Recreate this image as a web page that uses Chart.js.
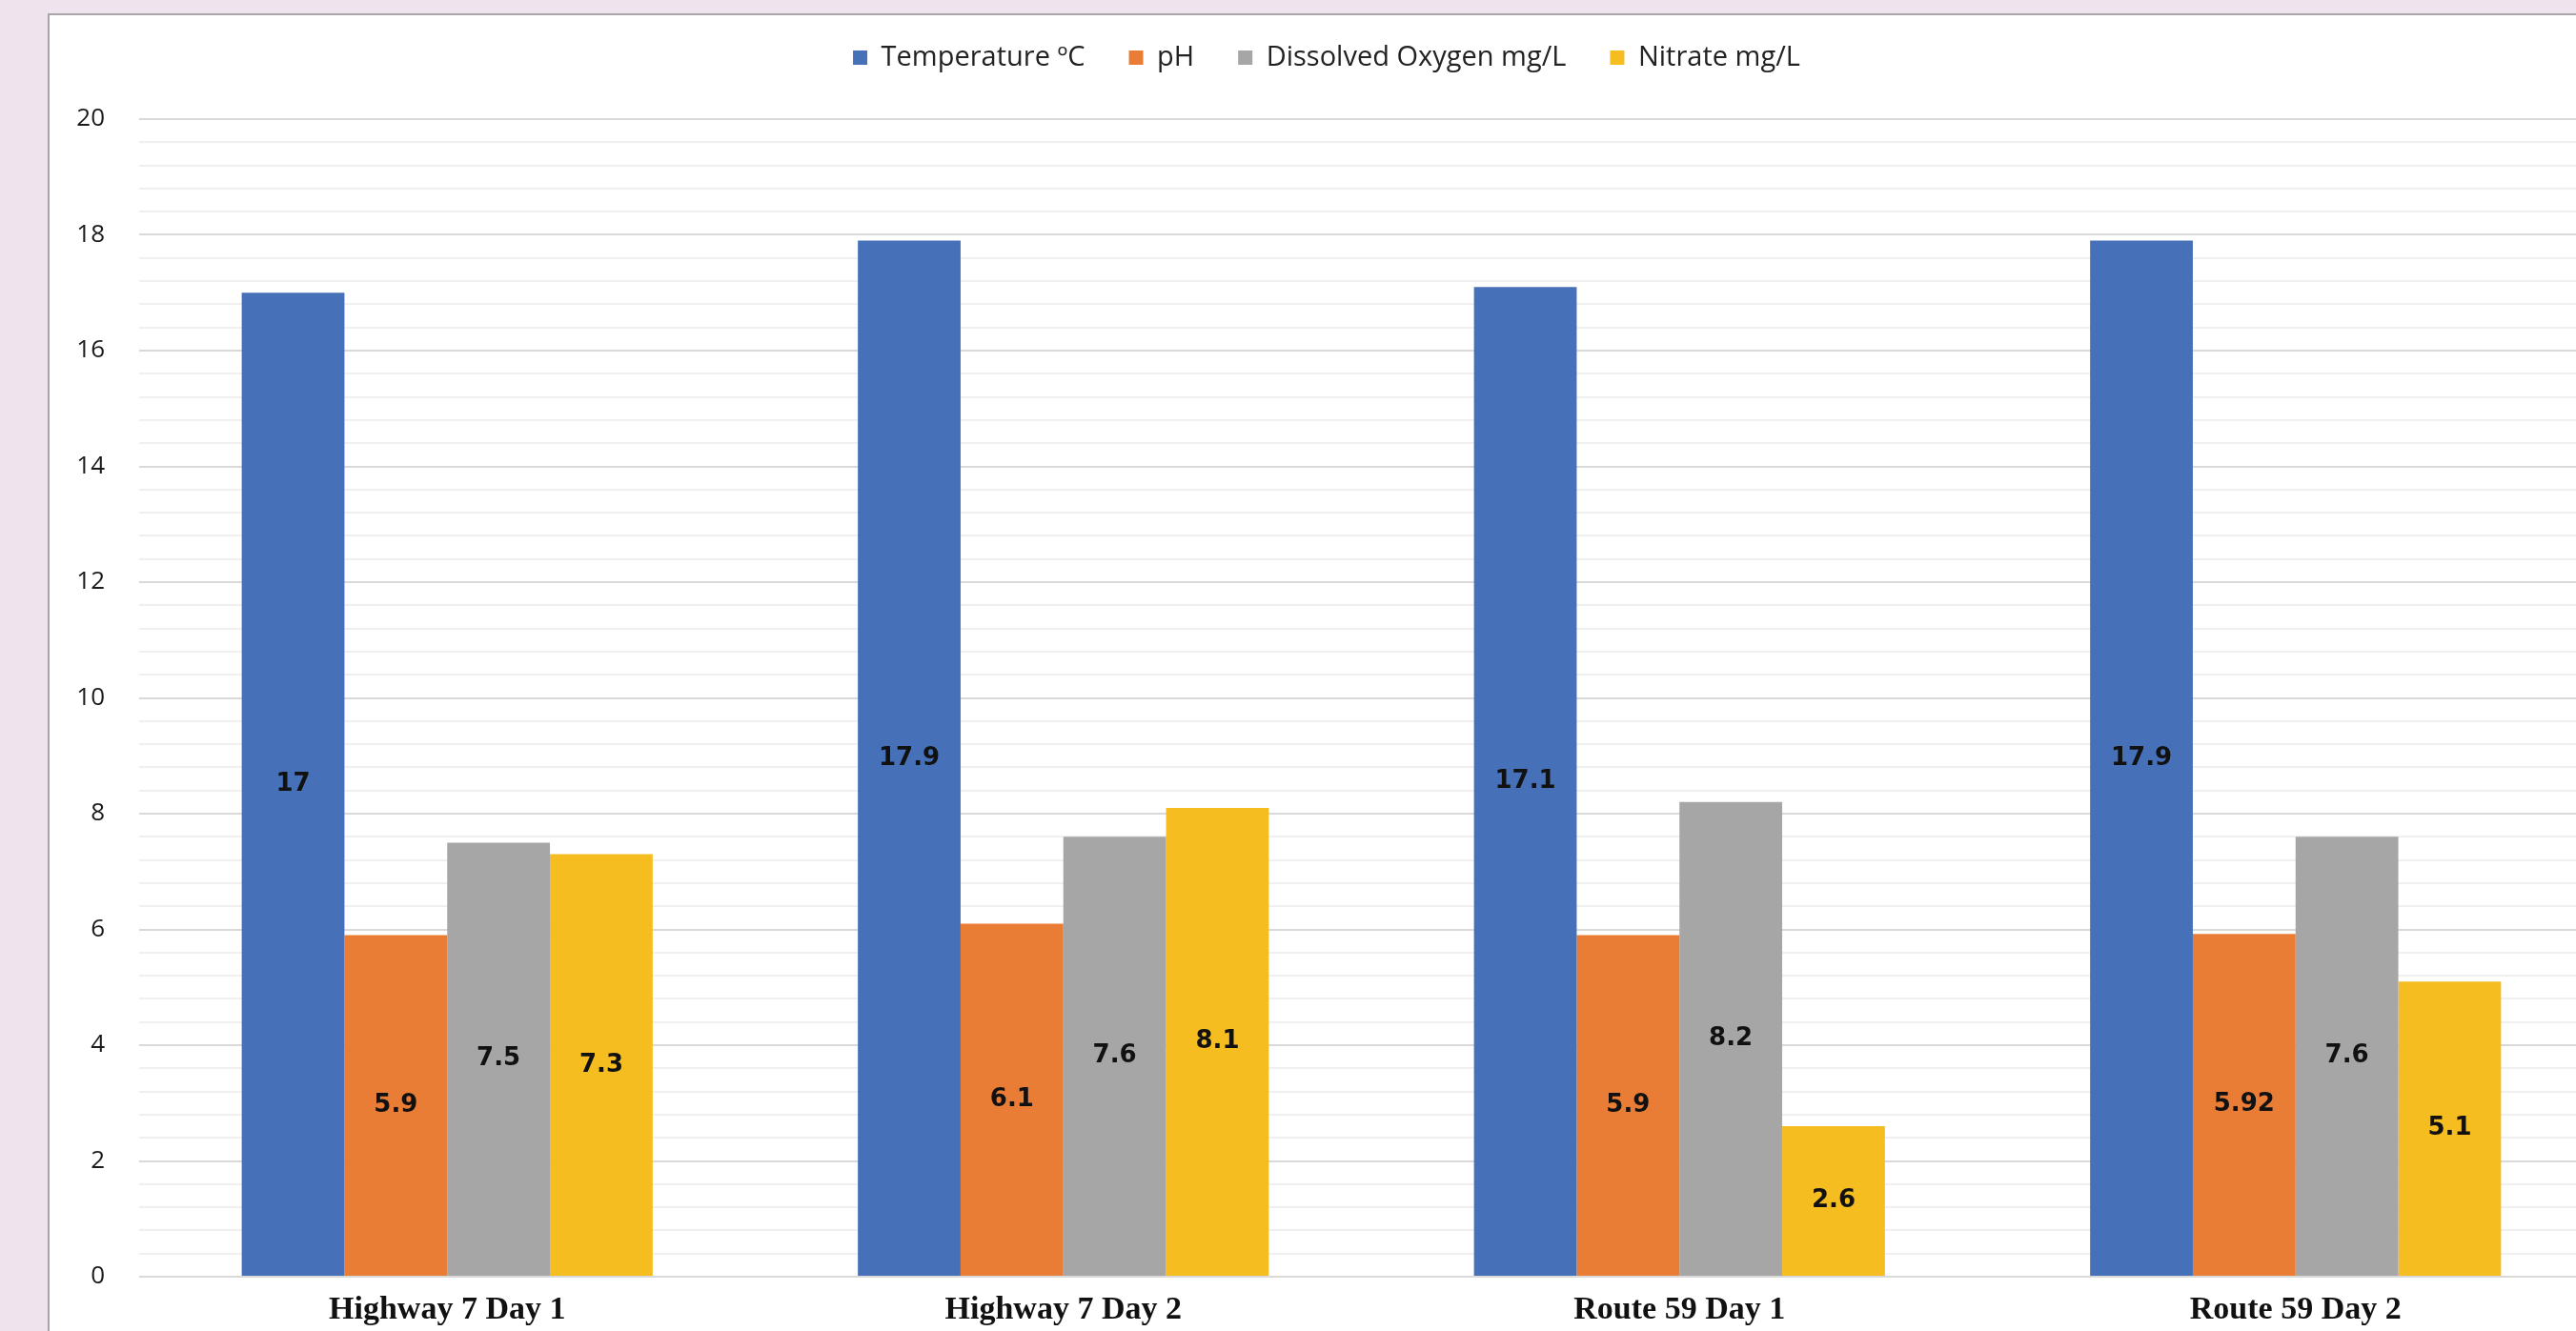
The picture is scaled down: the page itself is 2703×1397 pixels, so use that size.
<!DOCTYPE html>
<html>
<head>
<meta charset="utf-8">
<title>Water quality measurements</title>
<script src="https://cdn.jsdelivr.net/npm/chart.js@4.4.1/dist/chart.umd.min.js"></script>
<style>
  html, body { margin: 0; padding: 0; overflow: hidden; background: #efe4ee; width: 2703px; height: 1397px; }
  #panel {
    position: absolute; left: 50px; top: 14px;
    width: 2720px; height: 1400px;
    background: #ffffff;
    border-left: 2px solid #a8a4a8;
    border-top: 2px solid #a8a4a8;
  }
  #chart { position: absolute; left: 0; top: 0; }
</style>
</head>
<body>
<div id="panel"><canvas id="chart" width="2680" height="1381"></canvas></div>
<script>
// Sampling sites / days
const sites = ['Highway 7 Day 1', 'Highway 7 Day 2', 'Route 59 Day 1', 'Route 59 Day 2'];

// Measured values per site
const temperature = [17, 17.9, 17.1, 17.9];
const ph = [5.9, 6.1, 5.9, 5.92];
const dissolvedOxygen = [7.5, 7.6, 8.2, 7.6];
const nitrate = [7.3, 8.1, 2.6, 5.1];

// Series names shown in the legend
const seriesNames = ['Temperature ºC', 'pH', 'Dissolved Oxygen mg/L', 'Nitrate mg/L'];
const seriesColors = ['#4671b8', '#e97d36', '#a6a6a6', '#f5bd1f'];

// Value axis: labelled every 2, light minor lines every 0.4
const yMin = 0;
const yMax = 20;
const yStep = 0.4;
const yLabelEvery = 2;

const isMajor = v => Math.abs(v / yLabelEvery - Math.round(v / yLabelEvery)) < 1e-6;

// Writes each bar's value at the middle of the bar
const barValueLabels = {
  id: 'barValueLabels',
  afterDatasetsDraw(chart) {
    const ctx = chart.ctx;
    ctx.save();
    ctx.font = 'bold 26px "DejaVu Sans"';
    ctx.fillStyle = '#111111';
    ctx.textAlign = 'center';
    ctx.textBaseline = 'middle';
    chart.data.datasets.forEach((ds, di) => {
      const meta = chart.getDatasetMeta(di);
      meta.data.forEach((bar, i) => {
        const p = bar.getProps(['x', 'y', 'base'], true);
        ctx.fillText(String(ds.data[i]), p.x, (p.y + p.base) / 2);
      });
    });
    ctx.restore();
  }
};

// Leaves a gap between the legend row and the plot
const legendGap = {
  id: 'legendGap',
  beforeLayout(chart) {
    const legend = chart.legend;
    if (legend && !legend._gapPatched) {
      legend._gapPatched = true;
      const baseFit = legend.fit;
      legend.fit = function () {
        baseFit.call(this);
        this.height += 40;
      };
    }
  }
};

const datasets = [temperature, ph, dissolvedOxygen, nitrate].map((values, i) => ({
  label: seriesNames[i],
  data: values,
  backgroundColor: seriesColors[i],
  borderWidth: 0,
  categoryPercentage: 0.667,
  barPercentage: 1.0
}));

new Chart(document.getElementById('chart'), {
  type: 'bar',
  data: { labels: sites, datasets },
  plugins: [barValueLabels, legendGap],
  options: {
    responsive: false,
    animation: false,
    events: [],
    layout: { padding: { top: -16, left: 0, right: 0, bottom: 0 } },
    plugins: {
      tooltip: { enabled: false },
      title: { display: false },
      legend: {
        display: true,
        position: 'top',
        labels: {
          boxWidth: 15,
          boxHeight: 15,
          padding: 46,
          color: '#222222',
          font: { family: '"Open Sans"', size: 29 }
        }
      }
    },
    scales: {
      x: {
        grid: { display: false, drawTicks: false },
        border: { display: false },
        ticks: {
          padding: 15,
          color: '#111111',
          font: { family: '"Liberation Serif"', size: 34, weight: 'bold' },
          maxRotation: 0
        },
        afterFit(scale) { scale.height = 57; }
      },
      y: {
        min: yMin,
        max: yMax,
        border: { display: false },
        grid: {
          drawTicks: false,
          lineWidth: 2,
          color: c => isMajor(c.tick.value) ? '#d9d9d9' : '#f0f0f0'
        },
        ticks: {
          stepSize: yStep,
          autoSkip: false,
          padding: 36,
          color: '#1a1a1a',
          font: { family: '"Open Sans"', size: 26 },
          callback: v => isMajor(v) ? String(Math.round(v)) : ''
        },
        afterFit(scale) { scale.width = 94; }
      }
    }
  }
});
</script>
</body>
</html>
